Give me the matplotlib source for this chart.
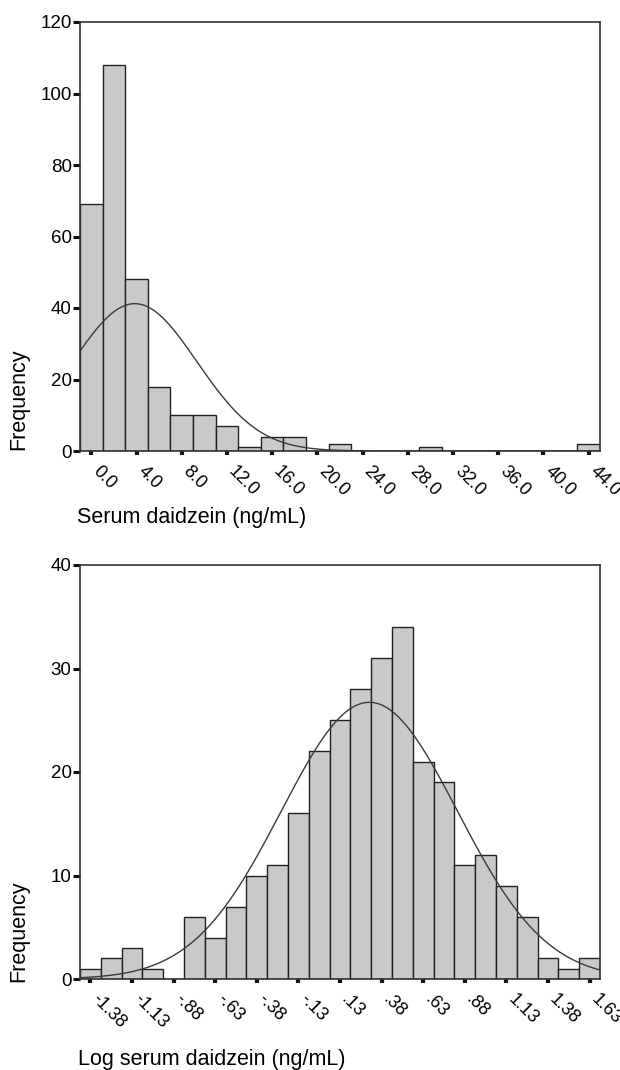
"""Two SPSS-style histograms of serum daidzein with fitted normal curves -> out.png"""

import numpy as np
import matplotlib
matplotlib.use("Agg")
import matplotlib.pyplot as plt
from matplotlib.transforms import ScaledTranslation

plt.rcParams["font.family"] = ["Liberation Sans", "DejaVu Sans"]

# --- raw serum daidzein (ng/mL), bin width 2 ---
RAW_CENTERS = [0, 2, 4, 6, 8, 10, 12, 14, 16, 18, 20, 22,
               24, 26, 28, 30, 32, 34, 36, 38, 40, 42, 44]
RAW_COUNTS = [69, 108, 48, 18, 10, 10, 7, 1, 4, 4, 0, 2,
              0, 0, 0, 1, 0, 0, 0, 0, 0, 0, 2]
RAW_WIDTH = 2.0
RAW_TICKS = [0, 4, 8, 12, 16, 20, 24, 28, 32, 36, 40, 44]
RAW_TICKLABELS = ["0.0", "4.0", "8.0", "12.0", "16.0", "20.0",
                  "24.0", "28.0", "32.0", "36.0", "40.0", "44.0"]

# --- log serum daidzein, bin width 0.125 ---
LOG_CENTERS = [-1.375, -1.25, -1.125, -1.0, -0.875, -0.75, -0.625, -0.5,
               -0.375, -0.25, -0.125, 0.0, 0.125, 0.25, 0.375, 0.5,
               0.625, 0.75, 0.875, 1.0, 1.125, 1.25, 1.375, 1.5, 1.625]
LOG_COUNTS = [1, 2, 3, 1, 0, 6, 4, 7, 10, 11, 16, 22, 25, 28, 31, 34,
              21, 19, 11, 12, 9, 6, 2, 1, 2]
LOG_WIDTH = 0.125
LOG_TICKS = [-1.375, -1.125, -0.875, -0.625, -0.375, -0.125,
             0.125, 0.375, 0.625, 0.875, 1.125, 1.375, 1.625]
LOG_TICKLABELS = ["-1.38", "-1.13", "-.88", "-.63", "-.38", "-.13",
                  ".13", ".38", ".63", ".88", "1.13", "1.38", "1.63"]

BAR_FACE = "#c9c9c9"
EDGE = "#222222"
W, H = 620, 1070


def hist(fig, ax, centers, counts, width, ticks, ticklabels, ymax, ystep):
    centers = np.asarray(centers, float)
    counts = np.asarray(counts, float)
    ax.bar(centers, counts, width=width, color=BAR_FACE, edgecolor=EDGE,
           linewidth=1.0, zorder=2)

    # normal curve from the binned data
    n = counts.sum()
    mu = (centers * counts).sum() / n
    sd = np.sqrt(((centers - mu) ** 2 * counts).sum() / (n - 1))
    lo, hi = centers[0] - width / 2, centers[-1] + width / 2
    xs = np.linspace(lo, hi, 400)
    ys = n * width / (sd * np.sqrt(2 * np.pi)) * np.exp(-0.5 * ((xs - mu) / sd) ** 2)
    ax.plot(xs, ys, color="#3a3a3a", lw=1.0, zorder=3)

    ax.set_xlim(lo, hi)
    ax.set_ylim(0, ymax)
    ax.set_yticks(np.arange(0, ymax + 1e-9, ystep))
    ax.set_xticks(ticks)
    ax.set_xticklabels(ticklabels)
    for sp in ax.spines.values():
        sp.set_linewidth(1.2)
        sp.set_color("#333333")
        sp.set_zorder(4)
    ax.tick_params(axis="y", direction="out", length=5, width=2.2,
                   pad=1, labelsize=13.5, color="#111111")
    ax.tick_params(axis="x", direction="out", length=3, width=3,
                   pad=10, labelsize=13, color="#111111")
    shift = ScaledTranslation(4 / 100, 0, fig.dpi_scale_trans)
    for lab in ax.get_xticklabels():
        lab.set_rotation(-45)
        lab.set_ha("left")
        lab.set_va("center")
        lab.set_rotation_mode("anchor")
        lab.set_transform(lab.get_transform() + shift)


fig = plt.figure(figsize=(W / 100, H / 100), dpi=100)

ax1 = fig.add_axes([80 / W, 1 - 451 / H, 520 / W, 429 / H])
hist(fig, ax1, RAW_CENTERS, RAW_COUNTS, RAW_WIDTH, RAW_TICKS, RAW_TICKLABELS, 120, 20)

ax2 = fig.add_axes([80 / W, 1 - 979 / H, 520 / W, 414 / H])
hist(fig, ax2, LOG_CENTERS, LOG_COUNTS, LOG_WIDTH, LOG_TICKS, LOG_TICKLABELS, 40, 10)

fig.text(19 / W, 1 - 450 / H, "Frequency", rotation=90, ha="center",
         va="bottom", fontsize=15.5)
fig.text(19 / W, 1 - 982 / H, "Frequency", rotation=90, ha="center",
         va="bottom", fontsize=15.5)
fig.text(77 / W, 1 - 517 / H, "Serum daidzein (ng/mL)", ha="left",
         va="center", fontsize=15.5)
fig.text(78 / W, 1 - 1059 / H, "Log serum daidzein (ng/mL)", ha="left",
         va="center", fontsize=15.5)

fig.savefig("out.png", dpi=100)
